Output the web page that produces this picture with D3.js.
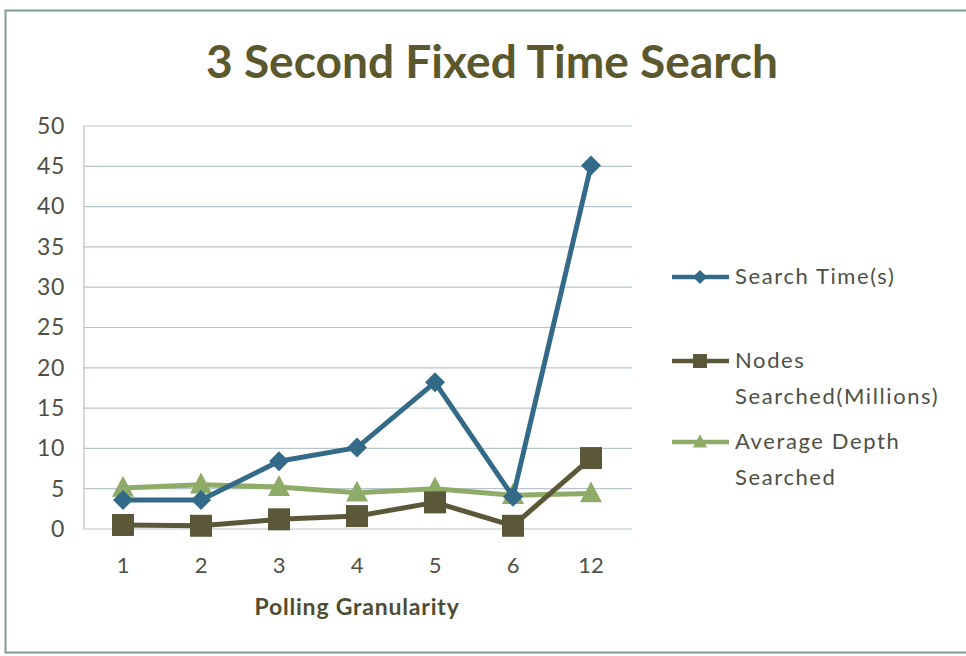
<!DOCTYPE html>
<html>
<head>
<meta charset="utf-8">
<script src="https://cdn.jsdelivr.net/npm/d3@7"></script>
<style>
  html, body { margin: 0; padding: 0; background: #fff; }
  svg { display: block; }
</style>
</head>
<body>
<svg id="chart" width="966" height="656"></svg>
<script>
// Polling granularity categories and measured series
const categories = ["1", "2", "3", "4", "5", "6", "12"];
const searchTime = [3.6, 3.6, 8.4, 10.1, 18.2, 4.0, 45.1];
const nodesSearched = [0.5, 0.4, 1.2, 1.6, 3.3, 0.4, 8.8];
const avgDepth = [5.1, 5.5, 5.2, 4.5, 5.0, 4.2, 4.4];
const yTicks = [0, 5, 10, 15, 20, 25, 30, 35, 40, 45, 50];

const series = [
  { name: ["Search Time(s)"], values: searchTime, color: "#326a88", marker: "diamond" },
  { name: ["Nodes", "Searched(Millions)"], values: nodesSearched, color: "#5a5838", marker: "square" },
  { name: ["Average Depth", "Searched"], values: avgDepth, color: "#8eab68", marker: "triangle" }
];

const svg = d3.select("#chart");
const font = "Lato, 'Open Sans', sans-serif";
const textColor = "#4f4f45";

// outer frame
svg.append("rect")
  .attr("x", 5.5).attr("y", 10.5).attr("width", 962).attr("height", 642)
  .attr("fill", "#fff").attr("stroke", "#7f9c98").attr("stroke-width", 2);

const plot = { left: 84, right: 630, top: 126, bottom: 529 };

const x = d3.scaleBand().domain(categories).range([plot.left, plot.right]);
const y = d3.scaleLinear().domain([0, 50]).range([plot.bottom, plot.top]);
const cx = c => x(c) + x.bandwidth() / 2;

// horizontal gridlines
svg.append("g")
  .selectAll("line").data(yTicks).join("line")
  .attr("x1", plot.left).attr("x2", plot.right + 2)
  .attr("y1", d => y(d)).attr("y2", d => y(d))
  .attr("stroke", "#b7c6cc").attr("stroke-width", 1.2);

// y axis line
svg.append("line")
  .attr("x1", plot.left).attr("x2", plot.left)
  .attr("y1", plot.top).attr("y2", plot.bottom)
  .attr("stroke", "#b7c2c2").attr("stroke-width", 1.2);

// y axis labels
const yAxis = d3.axisLeft(y).tickValues(yTicks).tickSize(0).tickPadding(19);
const yg = svg.append("g").attr("transform", `translate(${plot.left},0)`).call(yAxis);
yg.select(".domain").remove();
yg.selectAll("text").attr("font-family", font).attr("font-size", 23)
  .attr("letter-spacing", 0.6).attr("fill", textColor);

// x axis labels
const xAxis = d3.axisBottom(x).tickSize(0).tickPadding(28);
const xg = svg.append("g").attr("transform", `translate(0,${plot.bottom})`).call(xAxis);
xg.select(".domain").remove();
xg.selectAll("text").attr("font-family", font).attr("font-size", 22).attr("fill", textColor);

// axis title
svg.append("text")
  .attr("x", 357).attr("y", 615).attr("text-anchor", "middle")
  .attr("font-family", font).attr("font-weight", "bold").attr("font-size", 23)
  .attr("letter-spacing", 0.8)
  .attr("fill", "#4e4d33").text("Polling Granularity");

// chart title
svg.append("text")
  .attr("x", 492).attr("y", 78).attr("text-anchor", "middle")
  .attr("font-family", font).attr("font-weight", "bold").attr("font-size", 45)
  .attr("fill", "#5a582c")
  .attr("textLength", 572).attr("lengthAdjust", "spacingAndGlyphs")
  .text("3 Second Fixed Time Search");

// marker shapes
function markerPath(type, size) {
  const s = size / 2;
  if (type === "diamond") return `M0,${-s}L${s},0L0,${s}L${-s},0Z`;
  if (type === "square") return `M${-s},${-s}H${s}V${s}H${-s}Z`;
  return `M0,${-s * 1.1}L${s},${s * 0.8}H${-s}Z`;
}
const markerSize = { diamond: 20, square: 22, triangle: 22 };

const line = d3.line().x((d, i) => cx(categories[i])).y(d => y(d));

// draw lines in reverse so Search Time sits on top
series.slice().reverse().forEach(s => {
  const g = svg.append("g");
  g.append("path").datum(s.values)
    .attr("d", line).attr("fill", "none")
    .attr("stroke", s.color).attr("stroke-width", 5)
    .attr("stroke-linejoin", "round");
  g.selectAll("path.m").data(s.values).join("path")
    .attr("class", "m")
    .attr("transform", (d, i) => `translate(${cx(categories[i])},${y(d)})`)
    .attr("d", markerPath(s.marker, markerSize[s.marker]))
    .attr("fill", s.color);
});

// legend
const legendY = [277, 361, 442];
series.forEach((s, i) => {
  const g = svg.append("g").attr("transform", `translate(0,${legendY[i]})`);
  g.append("line").attr("x1", 672).attr("x2", 729).attr("y1", 0).attr("y2", 0)
    .attr("stroke", s.color).attr("stroke-width", 4.5);
  g.append("path").attr("transform", "translate(700,0)")
    .attr("d", markerPath(s.marker, 14)).attr("fill", s.color);
  s.name.forEach((t, j) => {
    g.append("text").attr("x", 735).attr("y", 7 + j * 36)
      .attr("font-family", font).attr("font-size", 22)
      .attr("letter-spacing", 1.6).attr("fill", textColor)
      .text(t);
  });
});
</script>
</body>
</html>
